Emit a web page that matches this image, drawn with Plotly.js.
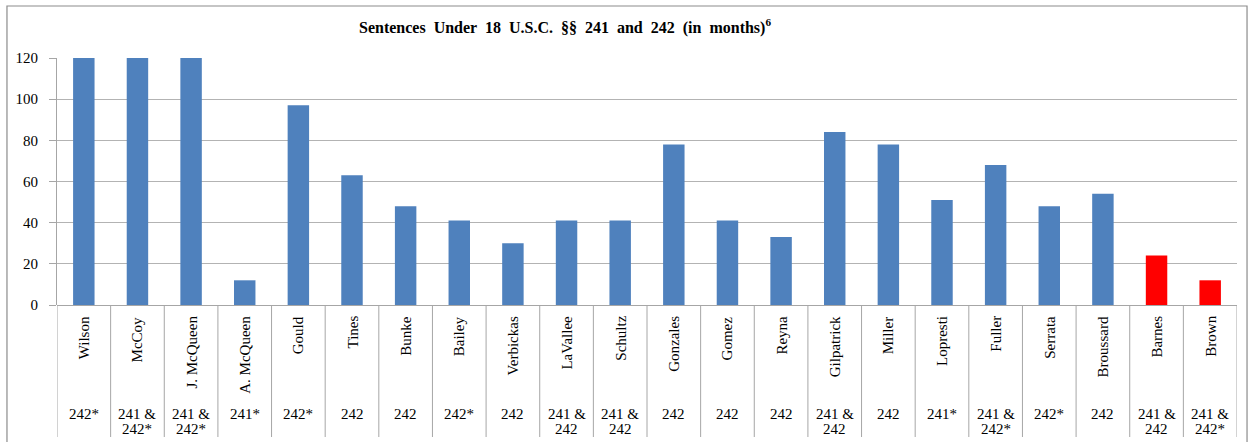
<!DOCTYPE html>
<html>
<head>
<meta charset="utf-8">
<script src="https://cdn.plot.ly/plotly-3.0.1.min.js"></script>
<style>html,body{margin:0;padding:0;background:#fff;}#chart{width:1250px;height:442px;}</style>
</head>
<body>
<div id="chart"></div>
<script>
const names = ["Wilson","McCoy","J. McQueen","A. McQueen","Gould","Tines","Bunke","Bailey","Verbickas","LaVallee","Schultz","Gonzales","Gomez","Reyna","Gilpatrick","Miller","Lopresti","Fuller","Serrata","Broussard","Barnes","Brown"];
const months = [120,120,120,12,97,63,48,41,30,41,41,78,41,33,84,78,51,68,48,54,24,12];
const statutes = ["242*","241 &<br>242*","241 &<br>242*","241*","242*","242","242","242*","242","241 &<br>242","241 &<br>242","242","242","242","241 &<br>242","242","241*","241 &<br>242*","242*","242","241 &<br>242","241 &<br>242*"];
const highlighted = ["Barnes","Brown"];
const yTicks = [0,20,40,60,80,100,120];

const blue = "#4F81BD", red = "#FF0000";
const serif = "'Liberation Serif', 'Times New Roman', Times, serif";
const idx = names.map((_, i) => i);

const trace = {
  type: "bar",
  x: idx,
  y: months,
  width: 0.4,
  marker: {color: names.map(n => highlighted.includes(n) ? red : blue)},
  hoverinfo: "skip"
};

const plotH = 442 - 58 - 137;
const py = px => -(px - 305) / plotH;

const shapes = [];
shapes.push({type:"rect", xref:"paper", yref:"paper", x0:-0.0424, x1:1.0085, y0:-0.7, y1:1.2105,
  line:{color:"#8c8c8c", width:1.2}, fillcolor:"rgba(0,0,0,0)"});
for (let i = 0; i <= names.length; i++) {
  shapes.push({type:"line", xref:"x", yref:"paper", x0:i-0.5, x1:i-0.5, y0:0, y1:py(437),
    line:{color:"#a6a6a6", width:1}});
}

const annotations = [];
names.forEach((n, i) => {
  annotations.push({x:i, y:py(314), xref:"x", yref:"paper", text:n, showarrow:false, textangle:-90,
    xanchor:"center", yanchor:"top", font:{family:serif, size:15, color:"#000"}});
  statutes[i].split("<br>").forEach((line, k) => {
    annotations.push({x:i, y:py(414 + 15*k), xref:"x", yref:"paper", text:line, showarrow:false,
      xanchor:"center", yanchor:"middle", align:"center", font:{family:serif, size:15, color:"#000"}});
  });
});

const layout = {
  width:1250, height:442,
  margin:{l:57, r:13, t:58, b:137},
  paper_bgcolor:"#fff", plot_bgcolor:"#fff",
  showlegend:false,
  font:{family:serif},
  title:{text:"<b>Sentences  Under  18  U.S.C.  §§  241  and  242  (in  months)<sup>6</sup></b>",
    font:{family:serif, size:16, color:"#000"}, xref:"container", x:565/1250, xanchor:"center", y:1-27/442, yanchor:"middle"},
  xaxis:{range:[-0.5, names.length-0.5], showticklabels:false, showgrid:false, zeroline:false,
    ticks:"", showline:false, fixedrange:true},
  yaxis:{range:[0,120], tickvals:yTicks, ticktext:yTicks.map(String), showgrid:true, gridcolor:"#b3b3b3", gridwidth:1,
    zeroline:true, zerolinecolor:"#a6a6a6", zerolinewidth:1,
    showline:true, linecolor:"#a6a6a6", linewidth:1, ticks:"outside", ticklen:7, tickcolor:"#a6a6a6",
    tickfont:{family:serif, size:15, color:"#000"}, ticklabelstandoff:8},
  shapes:shapes,
  annotations:annotations,
  bargap:0.6
};

Plotly.newPlot("chart", [trace], layout, {displayModeBar:false, staticPlot:true});
</script>
</body>
</html>
